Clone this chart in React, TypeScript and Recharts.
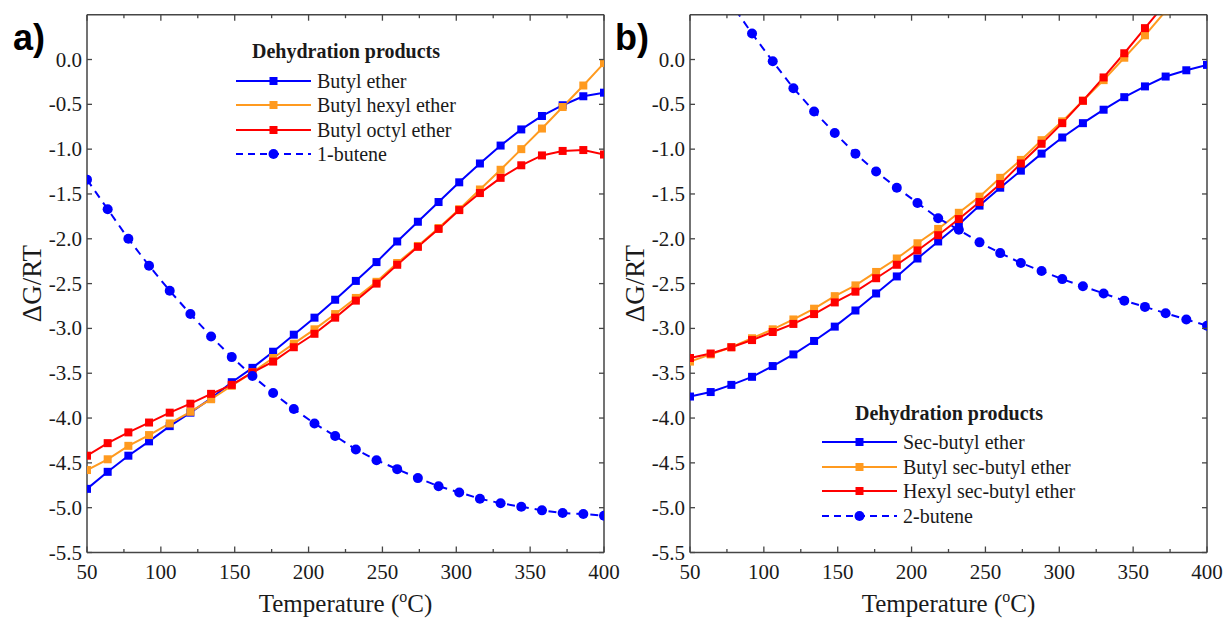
import React from 'react';
import { LineChart, Line, XAxis, YAxis, Legend, Label } from 'recharts';

// ---------- data ----------
const temperatures = [50, 64, 78, 92, 106, 120, 134, 148, 162, 176, 190, 204, 218, 232, 246, 260, 274, 288, 302, 316, 330, 344, 358, 372, 386, 400];

// panel a
const butylEther = [-4.79, -4.60, -4.42, -4.26, -4.09, -3.94, -3.78, -3.60, -3.44, -3.26, -3.07, -2.88, -2.68, -2.47, -2.26, -2.03, -1.81, -1.59, -1.37, -1.16, -0.96, -0.78, -0.63, -0.51, -0.41, -0.37];
const butylHexylEther = [-4.58, -4.46, -4.31, -4.19, -4.06, -3.93, -3.79, -3.64, -3.49, -3.33, -3.17, -3.01, -2.84, -2.66, -2.48, -2.27, -2.08, -1.88, -1.67, -1.45, -1.23, -1.00, -0.77, -0.53, -0.29, -0.04];
const butylOctylEther = [-4.42, -4.28, -4.16, -4.05, -3.94, -3.84, -3.73, -3.63, -3.49, -3.37, -3.21, -3.06, -2.88, -2.69, -2.50, -2.29, -2.09, -1.89, -1.68, -1.49, -1.32, -1.18, -1.07, -1.02, -1.01, -1.06];
const butene1 = [-1.34, -1.67, -2.00, -2.30, -2.58, -2.84, -3.09, -3.32, -3.53, -3.72, -3.90, -4.06, -4.20, -4.35, -4.47, -4.57, -4.67, -4.76, -4.83, -4.90, -4.95, -4.99, -5.03, -5.06, -5.07, -5.09];

// panel b
const secButylEther = [-3.76, -3.71, -3.63, -3.54, -3.42, -3.29, -3.14, -2.98, -2.80, -2.61, -2.42, -2.22, -2.03, -1.84, -1.63, -1.43, -1.24, -1.05, -0.87, -0.71, -0.56, -0.42, -0.30, -0.19, -0.12, -0.06];
const butylSecButylEther = [-3.37, -3.29, -3.21, -3.11, -3.01, -2.90, -2.78, -2.64, -2.52, -2.37, -2.22, -2.05, -1.89, -1.71, -1.53, -1.32, -1.12, -0.90, -0.69, -0.46, -0.23, 0.02, 0.27, 0.54, 0.82, 1.11];
const hexylSecButylEther = [-3.33, -3.28, -3.21, -3.13, -3.04, -2.95, -2.84, -2.71, -2.59, -2.44, -2.29, -2.13, -1.96, -1.78, -1.59, -1.39, -1.16, -0.94, -0.71, -0.46, -0.20, 0.07, 0.35, 0.63, 0.92, 1.22];
const butene2 = [1.34, 0.97, 0.62, 0.29, -0.02, -0.32, -0.58, -0.82, -1.05, -1.25, -1.43, -1.60, -1.77, -1.90, -2.04, -2.16, -2.27, -2.36, -2.45, -2.53, -2.61, -2.69, -2.76, -2.83, -2.90, -2.97];

const xTicks = [50, 75, 100, 125, 150, 175, 200, 225, 250, 275, 300, 325, 350, 375, 400];
const yTicks = [-5.5, -5.0, -4.5, -4.0, -3.5, -3.0, -2.5, -2.0, -1.5, -1.0, -0.5, 0.0];
const xDomain = [50, 400];
const yDomain = [-5.5, 0.5];

const legendTitle = 'Dehydration products';
const xTitle = 'Temperature (';
const yTitle = '\u0394G/RT';

// ---------- styles ----------
const BLUE = '#0000ff';
const ORANGE = '#ff9a1f';
const RED = '#ff0000';
const AXIS = '#454545';
const TEXT = '#1a1a1a';
const SERIF = '"Liberation Serif", "Times New Roman", serif';
const SANS = '"Liberation Sans", Arial, sans-serif';

type Series = { key: string; name: string; color: string; dashed: boolean; values: number[] };

const seriesA: Series[] = [
  { key: 'butylEther', name: 'Butyl ether', color: BLUE, dashed: false, values: butylEther },
  { key: 'butylHexylEther', name: 'Butyl hexyl ether', color: ORANGE, dashed: false, values: butylHexylEther },
  { key: 'butylOctylEther', name: 'Butyl octyl ether', color: RED, dashed: false, values: butylOctylEther },
  { key: 'butene1', name: '1-butene', color: BLUE, dashed: true, values: butene1 },
];
const seriesB: Series[] = [
  { key: 'secButylEther', name: 'Sec-butyl ether', color: BLUE, dashed: false, values: secButylEther },
  { key: 'butylSecButylEther', name: 'Butyl sec-butyl ether', color: ORANGE, dashed: false, values: butylSecButylEther },
  { key: 'hexylSecButylEther', name: 'Hexyl sec-butyl ether', color: RED, dashed: false, values: hexylSecButylEther },
  { key: 'butene2', name: '2-butene', color: BLUE, dashed: true, values: butene2 },
];

const buildData = (series: Series[]) =>
  temperatures.map((T, i) => {
    const row: Record<string, number> = { T };
    series.forEach((s) => {
      row[s.key] = s.values[i];
    });
    return row;
  });

const dataA = buildData(seriesA);
const dataB = buildData(seriesB);

// ---------- ticks ----------
const BottomTick = (props: any) => {
  const { x, y, payload } = props;
  const v = payload.value;
  const major = v % 50 === 0;
  return (
    <g>
      <line x1={x} x2={x} y1={y} y2={y - (major ? 6 : 3.5)} stroke={AXIS} strokeWidth={1.3} />
      {major && (
        <text x={x} y={y + 26} textAnchor="middle" fontFamily={SERIF} fontSize={21} fill={TEXT}>
          {v}
        </text>
      )}
    </g>
  );
};
const TopTick = (props: any) => {
  const { x, y, payload } = props;
  const major = payload.value % 50 === 0;
  return <line x1={x} x2={x} y1={y} y2={y + (major ? 6 : 3.5)} stroke={AXIS} strokeWidth={1.3} />;
};
const LeftTick = (props: any) => {
  const { x, y, payload } = props;
  return (
    <g>
      <line x1={x} x2={x + 5} y1={y} y2={y} stroke={AXIS} strokeWidth={1.3} />
      <text x={x - 5} y={y + 7} textAnchor="end" fontFamily={SERIF} fontSize={21} fill={TEXT}>
        {Number(payload.value).toFixed(1)}
      </text>
    </g>
  );
};
const RightTick = (props: any) => {
  const { x, y } = props;
  return <line x1={x} x2={x - 5} y1={y} y2={y} stroke={AXIS} strokeWidth={1.3} />;
};

const renderXTitle = (props: any) => {
  const vb = props.viewBox || { x: 0, y: 0, width: 0 };
  const cx = vb.x + vb.width / 2;
  const y = vb.y + 59.5;
  return (
    <text x={cx} y={y} textAnchor="middle" fontFamily={SERIF} fontSize={25} fill={TEXT}>
      {xTitle}
      <tspan fontSize={16} dy={-10}>o</tspan>
      <tspan dy={10}>C)</tspan>
    </text>
  );
};
const renderYTitle = (props: any) => {
  const vb = props.viewBox || { x: 0, y: 0, width: 0, height: 0 };
  const bx = vb.x + vb.width - 46;
  const cy = vb.y + vb.height / 2;
  return (
    <text x={bx} y={cy} transform={`rotate(-90 ${bx} ${cy})`} textAnchor="middle" fontFamily={SERIF} fontSize={27} fill={TEXT}>
      {yTitle}
    </text>
  );
};

// ---------- markers ----------
const squareDot = (color: string) => (p: any) => {
  if (p.cx == null || p.cy == null || isNaN(p.cx) || isNaN(p.cy)) return <g key={`e-${p.index}`} />;
  return <rect key={`sq-${p.index}`} x={p.cx - 4} y={p.cy - 4} width={8} height={8} fill={color} />;
};
const circleDot = (color: string) => (p: any) => {
  if (p.cx == null || p.cy == null || isNaN(p.cx) || isNaN(p.cy)) return <g key={`e-${p.index}`} />;
  return <circle key={`c-${p.index}`} cx={p.cx} cy={p.cy} r={5} fill={color} />;
};

// ---------- legend ----------
const LegendBox = ({ items, width, gap, rowH }: { items: Series[]; width: number; gap: number; rowH: number }) => (
  <div style={{ width, fontFamily: SERIF, color: TEXT }}>
    <div style={{ textAlign: 'center', fontWeight: 'bold', fontSize: 20, lineHeight: '24px', height: 24, whiteSpace: 'nowrap' }}>
      {legendTitle}
    </div>
    <div style={{ height: gap }} />
    {items.map((it) => (
      <div key={it.key} style={{ display: 'flex', alignItems: 'center', height: rowH }}>
        <svg width={75} height={14} style={{ display: 'block', flex: 'none' }}>
          <line x1={0} x2={75} y1={7} y2={7} stroke={it.color} strokeWidth={2.2} strokeDasharray={it.dashed ? '7 5' : undefined} />
          {it.dashed ? <circle cx={37.5} cy={7} r={5} fill={it.color} /> : <rect x={33.5} y={3} width={8} height={8} fill={it.color} />}
        </svg>
        <span style={{ marginLeft: 6, fontSize: 20, lineHeight: '24px', whiteSpace: 'nowrap' }}>{it.name}</span>
      </div>
    ))}
  </div>
);

// ---------- panel ----------
type PanelProps = {
  data: Record<string, number>[];
  series: Series[];
  width: number;
  yAxisWidth: number;
  rightMargin: number;
  legendLeft: number;
  legendTop: number;
  legendWidth: number;
  legendGap: number;
  legendRowH: number;
};

const Panel = (p: PanelProps) => (
  <LineChart
    width={p.width}
    height={618}
    data={p.data}
    margin={{ top: 4.7, right: p.rightMargin, bottom: 5.5, left: 0 }}
    style={{ overflow: 'visible' }}
  >
    <XAxis
      dataKey="T"
      type="number"
      domain={xDomain}
      ticks={xTicks}
      interval={0}
      allowDataOverflow
      height={60}
      tickSize={0}
      tickMargin={0}
      tickLine={false}
      tick={<BottomTick />}
      axisLine={{ stroke: AXIS, strokeWidth: 1.5 }}
    >
      <Label content={renderXTitle} />
    </XAxis>
    <XAxis
      xAxisId="top"
      orientation="top"
      dataKey="T"
      type="number"
      domain={xDomain}
      ticks={xTicks}
      interval={0}
      allowDataOverflow
      height={10}
      tickSize={0}
      tickMargin={0}
      tickLine={false}
      tick={<TopTick />}
      axisLine={{ stroke: AXIS, strokeWidth: 1.5 }}
    />
    <YAxis
      type="number"
      domain={yDomain}
      ticks={yTicks}
      interval={0}
      allowDataOverflow
      width={p.yAxisWidth}
      tickSize={0}
      tickMargin={0}
      tickLine={false}
      tick={<LeftTick />}
      axisLine={{ stroke: AXIS, strokeWidth: 1.5 }}
    >
      <Label content={renderYTitle} />
    </YAxis>
    <YAxis
      yAxisId="right"
      orientation="right"
      type="number"
      domain={yDomain}
      ticks={yTicks}
      interval={0}
      allowDataOverflow
      width={8}
      tickSize={0}
      tickMargin={0}
      tickLine={false}
      tick={<RightTick />}
      axisLine={{ stroke: AXIS, strokeWidth: 1.5 }}
    />
    {p.series.map((s) => (
      <Line
        key={s.key}
        dataKey={s.key}
        name={s.name}
        stroke={s.color}
        strokeWidth={2}
        strokeDasharray={s.dashed ? '8 6' : undefined}
        dot={s.dashed ? circleDot(s.color) : squareDot(s.color)}
        activeDot={false}
        isAnimationActive={false}
        type="linear"
      />
    ))}
    <Legend
      layout="horizontal"
      verticalAlign="middle"
      align="center"
      wrapperStyle={{ left: p.legendLeft, top: p.legendTop, width: p.legendWidth, height: 'auto' }}
      content={() => <LegendBox items={p.series} width={p.legendWidth} gap={p.legendGap} rowH={p.legendRowH} />}
    />
  </LineChart>
);

export default function App() {
  return (
    <div style={{ position: 'absolute', left: 0, top: 0, width: 1225, height: 618, background: '#fff', overflow: 'hidden' }}>
      <div style={{ position: 'absolute', left: 0, top: 0 }}>
        <Panel
          data={dataA}
          series={seriesA}
          width={640}
          yAxisWidth={87}
          rightMargin={28}
          legendLeft={236}
          legendTop={39}
          legendWidth={220}
          legendGap={5.8}
          legendRowH={24.4}
        />
      </div>
      <div style={{ position: 'absolute', left: 612, top: 0 }}>
        <Panel
          data={dataB}
          series={seriesB}
          width={613}
          yAxisWidth={78}
          rightMargin={10}
          legendLeft={210}
          legendTop={401}
          legendWidth={254}
          legendGap={4.8}
          legendRowH={24.6}
        />
      </div>
      <div style={{ position: 'absolute', left: 13, top: 19.5, fontFamily: SANS, fontWeight: 'bold', fontSize: 36, lineHeight: '36px', color: '#000' }}>a)</div>
      <div style={{ position: 'absolute', left: 615, top: 19.5, fontFamily: SANS, fontWeight: 'bold', fontSize: 36, lineHeight: '36px', color: '#000' }}>b)</div>
    </div>
  );
}
